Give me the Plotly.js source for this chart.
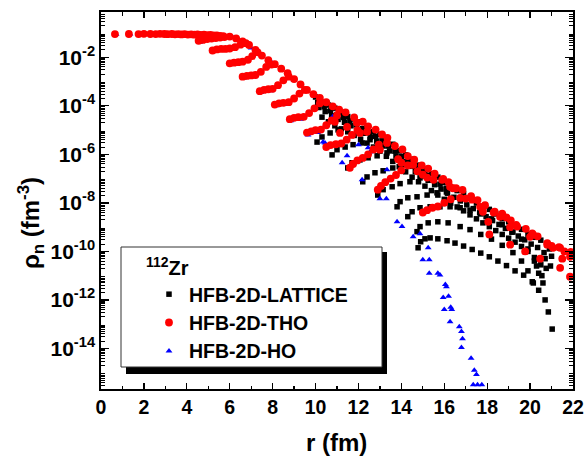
<!DOCTYPE html>
<html><head><meta charset="utf-8">
<script src="https://cdn.plot.ly/plotly-3.0.1.min.js"></script>
<style>html,body{margin:0;padding:0;background:#fff}#chart{width:585px;height:456px}</style>
</head><body><div id="chart"></div>
<script>
// ---------------- HFB-2D-LATTICE (black squares) ----------------
const latBand1R = [10.0,10.3,10.6,10.9,11.2,11.5,11.8,12.1,12.4,12.7,13.0,13.3,13.6,13.9,14.2,14.5,14.8,15.1,15.4,15.7,16.0,16.3,16.6,16.9,17.2,17.5,17.8,18.1,18.4,18.7,19.0,19.3,19.6,19.9,20.2,20.5,20.8];
const latBand1Rho = [2.3e-4,1.4e-4,1.07e-4,8.0e-5,5.2e-5,3.6e-5,2.9e-5,2.2e-5,1.38e-5,8.5e-6,6.6e-6,4.6e-6,2.6e-6,1.4e-6,9.5e-7,6.3e-7,3.6e-7,2.2e-7,1.58e-7,1.15e-7,6.9e-8,4.3e-8,3.2e-8,2.4e-8,1.55e-8,9.8e-9,7.2e-9,5.4e-9,3.5e-9,2.2e-9,1.66e-9,1.25e-9,8.1e-10,5.1e-10,3.8e-10,2.9e-10,1.9e-10];
const latBandMidR = [10.1,10.4,10.7,11.0,11.3,11.6,11.9,12.2,12.5,12.8,13.1,13.4,13.7,14.0,14.3,14.6,14.9,15.2,15.5,15.8,16.1];
const latBandMidRho = [1.35e-4,9.1e-5,6.2e-5,4.4e-5,3.3e-5,2.4e-5,1.66e-5,1.15e-5,7.9e-6,5.5e-6,3.6e-6,2.2e-6,1.35e-6,8.3e-7,5.0e-7,3.2e-7,2.0e-7,1.35e-7,8.9e-8,5.9e-8,4.0e-8];
const latBand2R = [10.15,10.45,10.75,11.05,11.35,11.65,11.95,12.25,12.55,12.85,13.15,13.45,13.75,14.05,14.35,14.65,14.95,15.25,15.55,15.85,16.15,16.45,16.75,17.05,17.35,17.65,17.95,18.25,18.55,18.85,19.15,19.45,19.75,20.05,20.35,20.65];
const latBand2Rho = [8.5e-5,5.8e-5,3.9e-5,2.75e-5,2.1e-5,1.5e-5,1.07e-5,7.4e-6,5.1e-6,3.5e-6,2.2e-6,1.38e-6,8.5e-7,5.1e-7,3.2e-7,1.95e-7,1.29e-7,8.5e-8,5.6e-8,3.7e-8,2.5e-8,1.7e-8,1.2e-8,8.3e-9,5.8e-9,3.9e-9,2.7e-9,1.86e-9,1.29e-9,8.9e-10,6.2e-10,4.3e-10,3.0e-10,2.0e-10,1.45e-10,8.9e-11];
const latBand3R = [10.3,10.6,10.9,11.2,11.5,11.8,12.1,12.4,12.7,13.0,13.3,13.6,13.9,14.2,14.5,14.8,15.1,15.4,15.7,16.0,16.3,16.6,16.9,17.2,17.5,17.8,18.1,18.4,18.7,19.0,19.3,19.6,19.9,20.2,20.5];
const latBand3Rho = [3.4e-5,2.2e-5,1.5e-5,1.12e-5,8.5e-6,6.0e-6,4.2e-6,2.9e-6,2.0e-6,1.35e-6,8.3e-7,5.1e-7,3.1e-7,1.9e-7,1.15e-7,7.4e-8,4.9e-8,3.2e-8,2.1e-8,1.4e-8,9.8e-9,6.8e-9,4.7e-9,3.2e-9,2.2e-9,1.5e-9,1.05e-9,7.2e-10,5.0e-10,3.5e-10,2.4e-10,1.6e-10,1.0e-10,5.6e-11,2.8e-11];
const latArcR = [
  10.07,10.3,10.68,11.05,11.47,11.93,
  10.77,11.0,11.38,11.75,12.17,12.54,
  11.5,11.7,12.07,12.45,12.87,13.33,
  12.2,12.4,12.77,13.15,13.6,14.08,
  12.9,13.15,13.57,13.94,14.4,14.87,
  13.8,13.94,14.3,14.73,15.2,15.66,16.1,
  14.3,14.5,14.87,15.34,15.8,16.27,16.74,17.2,17.7,18.2,18.7,19.2,19.6,19.9,20.2,20.4,
  14.73,14.87,15.25,15.7,16.18,16.74,17.2,17.7,18.2,18.7,19.2,19.6,19.9,20.15,
  14.78,14.9,15.1,15.34,15.7,16.13,16.5,16.9,17.3,17.7,18.1,18.5,18.9,19.3,19.7,20.1,20.4,20.7,20.85,21.03,
  20.9,21.0,20.95,20.7,20.75,20.55,20.6,20.3];
const latArcRho = [
  3.2e-6,5.2e-6,7.6e-6,1.02e-5,1.35e-5,2.0e-5,
  9.5e-7,1.55e-6,2.0e-6,2.5e-6,2.95e-6,4.0e-6,
  2.75e-7,4.5e-7,5.9e-7,7.2e-7,8.7e-7,1.15e-6,
  7.4e-8,1.17e-7,1.74e-7,2.1e-7,2.75e-7,3.7e-7,
  2.1e-8,3.5e-8,4.6e-8,6.2e-8,7.4e-8,1.07e-7,
  6.9e-9,1.12e-8,1.62e-8,1.78e-8,2.1e-8,2.6e-8,2.8e-8,
  2.7e-9,4.3e-9,6.3e-9,6.9e-9,6.9e-9,6.9e-9,6.3e-9,5.0e-9,3.5e-9,2.2e-9,1.26e-9,6.3e-10,3.2e-10,1.26e-10,4.0e-11,1.26e-11,
  6.5e-10,1.05e-9,1.5e-9,1.66e-9,1.5e-9,1.05e-9,7.9e-10,5.0e-10,3.2e-10,1.78e-10,8.9e-11,4.0e-11,1.58e-11,5.0e-12,
  1.41e-10,2.5e-10,3.3e-10,3.6e-10,3.3e-10,2.75e-10,2.2e-10,1.66e-10,1.2e-10,8.5e-11,6.0e-11,4.0e-11,2.6e-11,1.58e-11,1.05e-11,5.6e-12,2.5e-12,1.0e-12,3.2e-13,6.3e-14,
  1.26e-10,6.3e-11,2.5e-11,5.0e-11,2.0e-11,1.0e-11,5.0e-12,2.5e-11];

// ---------------- HFB-2D-THO (red circles) ----------------
const thoCoreR = [0.65,1.3,1.75,2.0,2.3,2.55,2.75,2.95,3.1,3.3,3.45,3.6,3.75,3.9,4.05,4.2,4.35,4.5,4.65,4.8,4.95,5.1,5.25,5.4,5.55];
const thoCoreRho = [0.090,0.091,0.090,0.092,0.091,0.090,0.092,0.091,0.089,0.091,0.088,0.090,0.087,0.089,0.086,0.088,0.085,0.087,0.083,0.086,0.081,0.083,0.079,0.080,0.076];
const thoEdgeR = [5.7,6.0,6.3,6.6,6.9,7.2,7.5,7.8,8.1,8.4,8.7,9.0,9.3,9.6,9.9,10.2,10.5,10.8,11.1,11.4,
  11.8,12.2,12.45,12.8,13.1,13.35,13.7,14.05,14.3,14.6,14.95,15.25,15.55,15.95,16.2,16.55,16.85,17.25,17.55,17.9,18.35,18.7,19.1,19.35,19.8,20.1,20.35,20.8,21.0,21.35,21.6,21.9];
const thoEdgeRho = [0.074,0.071,0.060,0.045,0.032,0.020,0.0117,0.0076,0.0052,0.0034,0.0022,0.00126,7.6e-4,4.5e-4,3.0e-4,2.1e-4,1.4e-4,9.5e-5,6.9e-5,5.4e-5,
  3.3e-5,2.2e-5,1.4e-5,1.05e-5,6.6e-6,4.8e-6,2.2e-6,1.6e-6,8.5e-7,6.0e-7,3.5e-7,2.6e-7,1.6e-7,9.8e-8,7.2e-8,4.0e-8,3.4e-8,1.9e-8,1.3e-8,8.0e-9,4.3e-9,3.6e-9,1.9e-9,1.25e-9,8.5e-10,5.5e-10,4.2e-10,2.2e-10,1.7e-10,1.5e-10,1.0e-10,9.5e-11];
const thoArcR = [
  4.55,4.75,4.95,5.15,5.35,5.55,5.75,
  5.2,5.4,5.6,5.8,6.0,6.25,6.5,6.75,
  6.0,6.2,6.4,6.6,6.85,7.05,7.3,
  6.6,6.8,7.0,7.2,7.45,7.7,7.95,
  7.4,7.6,7.8,8.0,8.25,8.5,8.75,
  8.1,8.3,8.5,8.75,9.0,9.25,9.5,
  8.8,9.0,9.2,9.45,9.7,9.95,10.2,
  9.6,9.8,10.0,10.25,10.5,10.75,11.0,
  10.5,10.7,10.95,11.2,11.45,11.7,11.95,
  11.6,11.75,11.95,12.2,12.45,12.7,12.95,
  12.9,13.05,13.25,13.5,13.75,14.0,14.3,
  15.0,15.2,15.45,15.7,16.0,16.3];
const thoArcRho = [
  0.048,0.052,0.056,0.059,0.062,0.065,0.068,
  0.019,0.021,0.022,0.022,0.023,0.026,0.033,0.038,
  0.0056,0.006,0.0063,0.0066,0.0079,0.0112,0.0158,
  0.00158,0.0017,0.00178,0.00186,0.0025,0.004,0.005,
  4.0e-4,4.5e-4,4.8e-4,5.0e-4,7.1e-4,1.12e-3,1.58e-3,
  1.12e-4,1.26e-4,1.32e-4,1.41e-4,2.0e-4,3.2e-4,4.5e-4,
  2.8e-5,3.2e-5,3.4e-5,3.5e-5,5.0e-5,7.9e-5,1.26e-4,
  7.9e-6,8.9e-6,1.0e-5,1.05e-5,1.58e-5,2.5e-5,4.0e-5,
  2.0e-6,2.4e-6,2.6e-6,2.8e-6,4.0e-6,6.3e-6,1.0e-5,
  2.8e-7,4.0e-7,5.6e-7,7.1e-7,1.0e-6,1.58e-6,2.5e-6,
  3.5e-8,5.0e-8,7.1e-8,1.0e-7,1.41e-7,2.2e-7,3.5e-7,
  4.0e-9,5.0e-9,6.3e-9,7.1e-9,1.0e-8,1.41e-8];
const thoScatR = [10.9,11.14,11.47,11.93,12.07,12.4,13.0,13.33,13.85,14.0,14.55,14.75,15.0,15.2,15.5,15.9,16.27,16.4,16.74,17.0,17.3,17.67,17.8,18.05,18.1,18.3,18.6,18.9,19.07,19.07,19.4,19.77,20.0,20.14,20.47,20.8,21.07,21.4,21.4,21.5,21.86,21.86];
const thoScatRho = [2.2e-5,7.6e-6,1.35e-5,2.0e-5,7.6e-6,8.5e-6,1.55e-6,2.95e-6,6.3e-7,4.5e-7,3.7e-7,2.0e-7,1.45e-7,1.1e-7,8.9e-8,8.9e-8,4.6e-8,4.0e-8,1.6e-8,1.5e-8,1.35e-8,6.9e-9,4.3e-9,1.66e-9,5.0e-10,4.0e-9,2.7e-9,2.5e-9,1.0e-9,1.9e-10,1.05e-9,1.0e-10,4.0e-10,4.9e-10,5.0e-11,1.9e-10,1.4e-10,2.1e-11,1.4e-10,5.0e-11,9.1e-12,6.0e-11];

// ---------------- HFB-2D-HO (blue triangles) ----------------
const hoInnerR = [0.7,1.35,2.05,2.6,3.0,3.5,4.0,4.4,4.9,5.3,4.6,5.0,5.25,5.7,6.05,6.5,6.65,7.1,7.45,7.9,8.15,8.6,8.85,9.3,9.65,10.1,6.2,7.0,8.0,9.0,10.0];
const hoInnerRho = [0.089,0.090,0.091,0.090,0.089,0.089,0.087,0.086,0.083,0.079,0.042,0.050,0.0174,0.020,0.0050,0.0058,0.0014,0.00158,3.5e-4,4.2e-4,1.0e-4,1.12e-4,2.4e-5,2.8e-5,6.3e-6,7.9e-6,0.063,0.024,0.0056,0.00112,2.5e-4];
const hoOuterR = [10.35,10.44,10.8,11.24,11.47,12.0,12.45,12.54,12.17,13.33,13.0,13.3,13.8,14.03,14.55,14.87,15.25,15.0,15.3,15.3,15.7,15.8,16.05,16.1,15.95,16.2,16.3,16.35,16.0,16.27,16.7,16.8,16.85,16.8,17.25,17.4,17.5,17.35,17.55,17.75];
const hoOuterRho = [3.2e-6,2.95e-6,3.5e-5,4.5e-7,8.7e-7,2.5e-6,1.86e-6,1.26e-6,8.9e-8,2.3e-7,1.48e-8,1.48e-8,1.66e-9,1.05e-9,4.0e-10,5.4e-10,1.41e-10,4.5e-11,4.5e-11,1.26e-11,1.26e-11,1.07e-11,4.3e-12,3.5e-12,1.26e-12,1.41e-12,5.0e-13,4.0e-13,4.0e-13,1.26e-13,7.9e-14,5.0e-14,2.5e-14,1.1e-14,4.0e-15,1.26e-15,8.5e-16,3.2e-16,3.2e-16,3.2e-16];

// ---------------- axis labels ----------------
const xTickVals = [0,2,4,6,8,10,12,14,16,18,20,22];
const yLabelledExp = [-2,-4,-6,-8,-10,-12,-14];
const yUnlabelledExp = [-1,-3,-5,-7,-9,-11,-13,-15];
const xTitle = 'r (fm)';
const yTitle = 'ρ<sub>n</sub> (fm<sup>-3</sup>)';
const isotope = '<sup>112</sup>Zr';
const names = ['HFB-2D-LATTICE','HFB-2D-THO','HFB-2D-HO'];

const latticeR = [].concat(latBand1R, latBandMidR, latBand2R, latBand3R, latArcR);
const latticeRho = [].concat(latBand1Rho, latBandMidRho, latBand2Rho, latBand3Rho, latArcRho);
const thoR = [].concat(thoCoreR, thoEdgeR, thoArcR, thoScatR);
const thoRho = [].concat(thoCoreRho, thoEdgeRho, thoArcRho, thoScatRho);
const hoR = [].concat(hoInnerR, hoOuterR);
const hoRho = [].concat(hoInnerRho, hoOuterRho);

const FONT = 'Liberation Sans, Arial, sans-serif';
const traces = [
  {x: latticeR, y: latticeRho, name: names[0], type: 'scatter', mode: 'markers', legendrank: 1,
   marker: {symbol: 'square', size: 5.5, color: '#000000'}},
  {x: hoR, y: hoRho, name: names[2], type: 'scatter', mode: 'markers', legendrank: 3, cliponaxis: false,
   marker: {symbol: 'triangle-up', size: 6, color: '#0000ff'}},
  {x: thoR, y: thoRho, name: names[1], type: 'scatter', mode: 'markers', legendrank: 2,
   marker: {symbol: 'circle', size: 7.8, color: '#ff0000'}}
];

const YRANGE = [-15.67, -0.135];
const yTickVals = yLabelledExp.map(e => Math.pow(10, e));
const yTickText = yLabelledExp.map(e => '10<sup>' + e + '</sup>');
const yOddVals = yUnlabelledExp.map(e => Math.pow(10, e));
const yMinor = [];
for (let e = -16; e <= 0; e++) for (let k = 2; k <= 9; k++) yMinor.push(k * Math.pow(10, e));

const W = 472, H = 377, L0 = 101, B0 = 389;
const px = v => (v - L0) / W, py = v => (B0 - v) / H;

const layout = {
  width: 585, height: 456,
  margin: {l: 101, r: 12, t: 12, b: 67},
  paper_bgcolor: '#ffffff', plot_bgcolor: '#ffffff',
  font: {family: FONT, color: '#000000'},
  showlegend: true,
  xaxis: {
    range: [0, 22], tickmode: 'array', tickvals: xTickVals,
    ticks: 'inside', ticklen: 6, tickwidth: 1.3, tickcolor: '#000',
    minor: {dtick: 1, tick0: 0, ticks: 'inside', ticklen: 3.5, tickwidth: 1.2, tickcolor: '#000'},
    showline: true, linecolor: '#000', linewidth: 1.7, mirror: 'ticks',
    showgrid: false, zeroline: false,
    tickfont: {family: FONT, size: 19.5, weight: 'bold'}
  },
  yaxis: {
    type: 'log', range: YRANGE,
    tickmode: 'array', tickvals: yTickVals, ticktext: yTickText,
    ticks: 'inside', ticklen: 8, tickwidth: 1.3, tickcolor: '#000',
    minor: {tickmode: 'array', tickvals: yMinor, ticks: 'inside', ticklen: 4, tickwidth: 1, tickcolor: '#000'},
    showline: true, linecolor: '#000', linewidth: 1.7, mirror: 'ticks',
    showgrid: false, zeroline: false,
    tickfont: {family: FONT, size: 21, weight: 'bold'}
  },
  yaxis2: {
    type: 'log', range: YRANGE, overlaying: 'y', anchor: 'x', side: 'left',
    tickmode: 'array', tickvals: yOddVals, showticklabels: false,
    ticks: 'inside', ticklen: 8, tickwidth: 1.3, tickcolor: '#000',
    showline: false, mirror: 'ticks', showgrid: false, zeroline: false
  },
  legend: {
    x: px(144), y: py(249), xanchor: 'left', yanchor: 'top',
    bgcolor: 'rgba(0,0,0,0)', borderwidth: 0, indentation: 5,
    font: {family: FONT, size: 19.5, weight: 'bold'},
    title: {text: isotope, font: {family: FONT, size: 20, weight: 'bold'}},
    tracegroupgap: 0
  },
  annotations: [
    {text: xTitle, xref: 'paper', yref: 'paper', x: px(336.5), y: py(442), xanchor: 'center', yanchor: 'middle',
     showarrow: false, font: {family: FONT, size: 24, weight: 'bold', color: '#000'}},
    {text: yTitle, xref: 'paper', yref: 'paper', x: px(31), y: py(223), xanchor: 'center', yanchor: 'middle',
     textangle: -90, showarrow: false, font: {family: FONT, size: 24, weight: 'bold', color: '#000'}}
  ],
  shapes: [
    {type: 'rect', xref: 'paper', yref: 'paper', x0: px(126), x1: px(387), y0: py(374), y1: py(252),
     fillcolor: '#000000', line: {width: 0}, layer: 'above'},
    {type: 'rect', xref: 'paper', yref: 'paper', x0: px(121), x1: px(382), y0: py(367), y1: py(247),
     fillcolor: '#ffffff', line: {color: '#333333', width: 1}, layer: 'above'}
  ]
};

Plotly.newPlot('chart', traces, layout, {staticPlot: true, displayModeBar: false});
</script>
</body></html>
